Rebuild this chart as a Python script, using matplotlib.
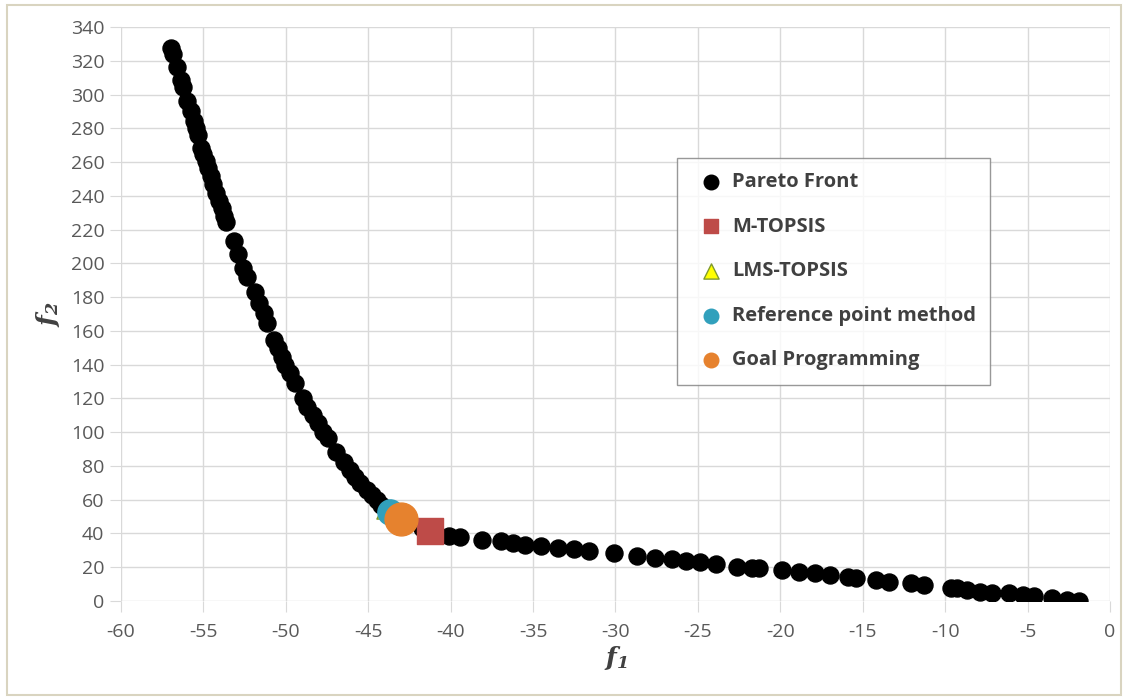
import numpy as np
import matplotlib.pyplot as plt
from matplotlib.patches import Rectangle

plt.rcParams["font.family"] = ["Open Sans", "DejaVu Sans"]
plt.rcParams["axes.unicode_minus"] = False
plt.rcParams["mathtext.fontset"] = "dejavuserif"

# Pareto front (f1, f2)
pareto_f1 = [
    -56.97, -56.85, -56.6, -56.36, -56.24, -56.0, -55.76, -55.58, -55.45, -55.33,
    -55.15, -55.03, -54.85, -54.73, -54.55, -54.42, -54.24, -54.06, -53.88, -53.76,
    -53.64, -53.15, -52.9, -52.6, -52.36, -51.9, -51.6, -51.33, -51.15, -50.7,
    -50.5, -50.24, -50.06, -49.76, -49.45, -48.97, -48.73, -48.36, -48.06, -47.76,
    -47.45, -46.97, -46.5, -46.1, -45.8, -45.5, -45.1, -44.8, -44.5, -44.2,
    -41.75, -40.1, -39.45, -38.1, -36.97, -36.24, -35.5, -34.5, -33.5, -32.5,
    -31.6, -30.1, -28.67, -27.6, -26.6, -25.7, -24.9, -23.9, -22.6, -21.7,
    -21.27, -19.9, -18.85, -17.9, -17.0, -15.9, -15.4, -14.2, -13.4, -12.06,
    -11.3, -9.64, -9.3, -8.7, -7.9, -7.15, -6.1, -5.3, -4.6, -3.5,
    -2.6, -1.9,
]
pareto_f2 = [
    327.8, 324.3, 316.6, 308.9, 304.7, 296.4, 290.5, 284.6, 280.5, 276.3,
    268.6, 265.1, 260.9, 256.8, 252.1, 247.3, 242.0, 237.3, 233.1, 228.4,
    224.3, 213.6, 205.9, 197.6, 191.7, 182.8, 176.3, 170.4, 164.5, 154.4,
    149.7, 144.4, 139.6, 134.9, 129.0, 120.1, 114.8, 110.0, 105.3, 100.0,
    96.4, 88.2, 82.2, 77.5, 73.4, 69.8, 65.7, 62.7, 59.8, 56.8,
    43.2, 38.5, 37.9, 36.1, 35.5, 34.3, 33.1, 32.5, 31.4, 30.8,
    29.6, 28.4, 26.6, 25.4, 24.9, 23.7, 23.1, 21.9, 20.1, 19.5,
    19.5, 18.3, 17.2, 16.6, 15.4, 14.2, 13.6, 12.4, 11.2, 10.7,
    9.5, 7.7, 7.7, 6.5, 5.3, 4.7, 4.7, 3.5, 3.0, 1.8,
    0.6, 0.0,
]

mtopsis = (-41.27, 41.4)
lms_topsis = (-44.1, 52.5)
ref_point = (-43.7, 52.7)
goal_prog = (-43.0, 48.5)

fig = plt.figure(figsize=(11.28, 6.98), dpi=100)
ax = fig.add_axes([0.1073, 0.139, 0.8767, 0.822])

grid_c = "#d9d9d9"
text_c = "#595959"

ax.scatter(pareto_f1, pareto_f2, s=150, color="black", zorder=3, label="Pareto Front")
ax.scatter(*mtopsis, marker="s", s=330, color="#be4b48", zorder=4, label="M-TOPSIS")
ax.scatter(*lms_topsis, marker="^", s=90, color="#ffff00", edgecolors="#7f9a2e",
           linewidths=1, zorder=4, label="LMS-TOPSIS")
ax.scatter(*ref_point, s=330, color="#31a0bc", zorder=5, label="Reference point method")
ax.scatter(*goal_prog, s=560, color="#e6822e", zorder=6, label="Goal Programming")

ax.set_xlim(-60, 0)
ax.set_ylim(0, 340)
ax.set_xticks(np.arange(-60, 1, 5))
ax.set_yticks(np.arange(0, 341, 20))
ax.grid(True, color=grid_c, linewidth=1)
ax.set_axisbelow(True)
for s in ax.spines.values():
    s.set_visible(False)
ax.tick_params(axis="both", length=8, color=grid_c, labelcolor=text_c, labelsize=14)
ax.tick_params(axis="x", pad=8)
ax.tick_params(axis="y", pad=4)

ax.set_xlabel(r"$\mathbfit{f}_{\mathbfit{1}}$", fontsize=18, color="#404040", labelpad=2)
ax.set_ylabel(r"$\mathbfit{f}_{\mathbfit{2}}$", fontsize=18, color="#404040", labelpad=6)

leg = ax.legend(loc="upper left", bbox_to_anchor=(0.562, 0.772), borderaxespad=0,
                frameon=True, fancybox=False, edgecolor="#7f7f7f", labelspacing=1.22,
                handletextpad=0.05, borderpad=0.7, markerscale=1,
                prop={"weight": "bold", "size": 14.5})
leg.get_frame().set_linewidth(1)
for t in leg.get_texts():
    t.set_color("#404040")
# all legend symbols drawn at one size, as in the original
for h, sz in zip(leg.legend_handles, [110, 95, 120, 110, 110]):
    h.set_sizes([sz])

# thin outer chart border
fig.patches.append(Rectangle((0.006, 0.005), 0.988, 0.988, transform=fig.transFigure,
                             fill=False, edgecolor="#d9d4c0", linewidth=1.5))

fig.savefig("out.png", dpi=100)
